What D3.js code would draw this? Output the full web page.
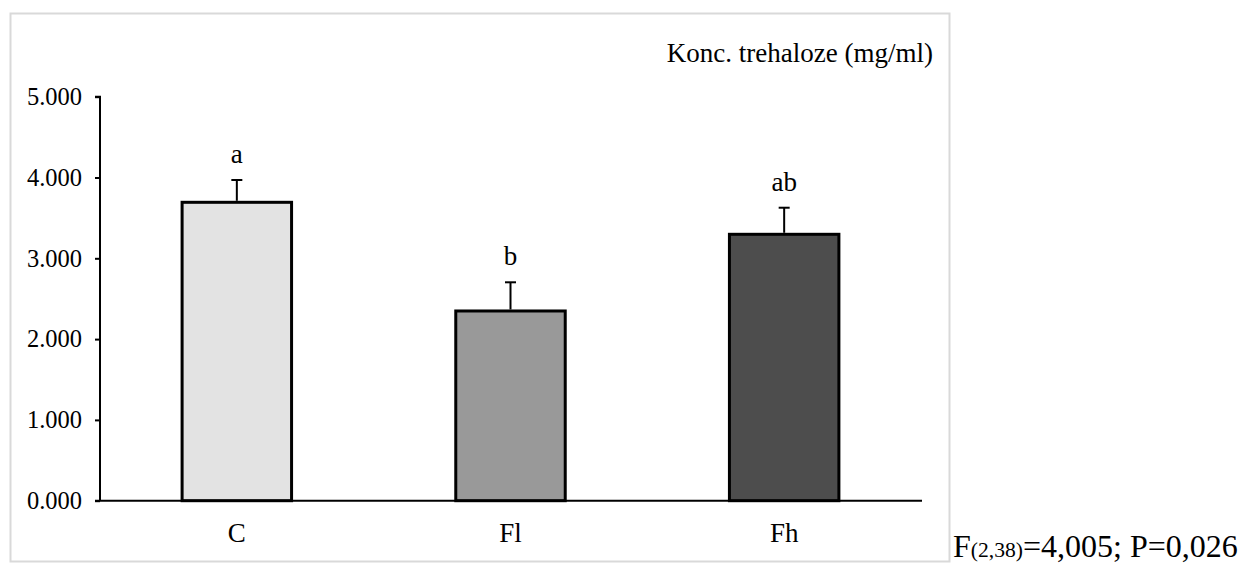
<!DOCTYPE html>
<html>
<head>
<meta charset="utf-8">
<script src="https://cdn.jsdelivr.net/npm/d3@7"></script>
<style>
html, body { margin: 0; padding: 0; background: #fff; }
svg { display: block; }
svg text { font-family: "Liberation Serif", "Times New Roman", serif !important; fill: #000; }
</style>
</head>
<body>
<svg id="chart" width="1246" height="567"></svg>
<script>
// ---- data ----
const categories = ["C", "Fl", "Fh"];
const means = [3.693, 2.348, 3.297];
const errors = [0.276, 0.355, 0.329];
const letters = ["a", "b", "ab"];
const fills = ["#e3e3e3", "#999999", "#4d4d4d"];
const yTicks = [0, 1, 2, 3, 4, 5];
const yTitle = "Konc. trehaloze (mg/ml)";
const statMain = "F";
const statSub = "(2,38)";
const statRest = "=4,005; P=0,026";

// ---- layout ----
const svg = d3.select("#chart");
const tickSize = 24.5;
const labelSize = 27;

// chart frame
svg.append("rect")
  .attr("x", 10.5).attr("y", 13.5)
  .attr("width", 939).attr("height", 548)
  .attr("fill", "#fff")
  .attr("stroke", "#d9d9d9")
  .attr("stroke-width", 2);

const x = d3.scaleBand()
  .domain(categories)
  .range([100, 921])
  .paddingInner(0.6)
  .paddingOuter(0.3);

const y = d3.scaleLinear()
  .domain([0, 5])
  .range([500.7, 96.7]);

// bars
svg.append("g").selectAll("rect")
  .data(categories)
  .join("rect")
  .attr("x", d => x(d))
  .attr("width", x.bandwidth())
  .attr("y", (d, i) => y(means[i]))
  .attr("height", (d, i) => y(0) - y(means[i]))
  .attr("fill", (d, i) => fills[i])
  .attr("stroke", "#000")
  .attr("stroke-width", 3);

// error bars
const eg = svg.append("g").attr("stroke", "#000").attr("stroke-width", 2);
categories.forEach((c, i) => {
  const cx = x(c) + x.bandwidth() / 2;
  eg.append("line")
    .attr("x1", cx).attr("x2", cx)
    .attr("y1", y(means[i]) - 1.5).attr("y2", y(means[i] + errors[i]));
  eg.append("line")
    .attr("x1", cx - 5.5).attr("x2", cx + 5.5)
    .attr("y1", y(means[i] + errors[i])).attr("y2", y(means[i] + errors[i]));
});

// significance letters
svg.append("g").selectAll("text")
  .data(categories)
  .join("text")
  .attr("x", d => x(d) + x.bandwidth() / 2)
  .attr("y", (d, i) => y(means[i] + errors[i]) - 17)
  .attr("text-anchor", "middle")
  .style("font-size", labelSize + "px")
  .text((d, i) => letters[i]);

// y axis
const yAxis = d3.axisLeft(y)
  .tickValues(yTicks)
  .tickFormat(d3.format(".3f"))
  .tickSize(5)
  .tickPadding(13);
const gy = svg.append("g").attr("transform", "translate(100,0)").call(yAxis);
gy.select(".domain").attr("stroke", "#000").attr("stroke-width", 2)
  .attr("d", `M-5,${y(5)}H0V${y(0)}`);
gy.selectAll(".tick line").attr("stroke", "#000").attr("stroke-width", 2);
gy.selectAll(".tick text")
  .style("font-size", tickSize + "px")
  .attr("fill", "#000")
  .attr("dy", "0.32em");

// x axis
const xAxis = d3.axisBottom(x).tickSize(0).tickPadding(0);
const gx = svg.append("g").attr("transform", `translate(0,${y(0)})`).call(xAxis);
gx.select(".domain").attr("stroke", "#000").attr("stroke-width", 2)
  .attr("d", "M95,0H922");
gx.selectAll(".tick text")
  .style("font-size", labelSize + "px")
  .attr("fill", "#000")
  .attr("dy", null)
  .attr("y", 41);

// y title
svg.append("text")
  .attr("x", 933).attr("y", 62)
  .attr("text-anchor", "end")
  .style("font-size", labelSize + "px")
  .text(yTitle);

// statistics note
const st = svg.append("text")
  .attr("x", 953).attr("y", 557)
  .style("font-size", "32px");
st.append("tspan").text(statMain);
st.append("tspan").style("font-size", "21.6px").text(statSub);
st.append("tspan").text(statRest);
</script>
</body>
</html>
